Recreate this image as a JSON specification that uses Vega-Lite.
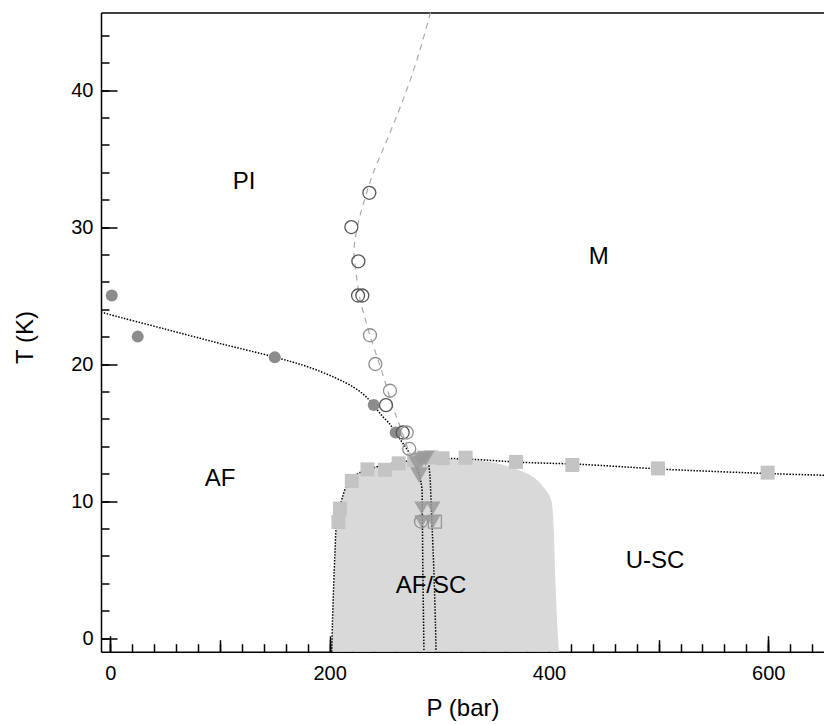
{
  "$schema": "https://vega.github.io/schema/vega-lite/v6.json",
  "autosize": "none",
  "width": 723,
  "height": 639.2,
  "padding": {"left": 101, "top": 12.5, "right": 0, "bottom": 72.3},
  "background": "white",
  "config": {
    "view": {"stroke": null},
    "axis": {"grid": false, "domainColor": "black", "tickColor": "black", "labelColor": "black", "titleColor": "black", "labelFont": "Liberation Sans", "titleFont": "Liberation Sans", "domainWidth": 1.5, "tickWidth": 1.5, "labelOverlap": false, "labelFlush": false}
  },
  "datasets": {
    "region": [
      {"T": -1, "Pl": 202, "Pr": 409},
      {"T": 1, "Pl": 202.6, "Pr": 407.5},
      {"T": 3, "Pl": 203.3, "Pr": 406.5},
      {"T": 5, "Pl": 204.2, "Pr": 405.5},
      {"T": 6.5, "Pl": 205, "Pr": 405},
      {"T": 8, "Pl": 205.8, "Pr": 404.3},
      {"T": 9.2, "Pl": 207.5, "Pr": 403.5},
      {"T": 10.1, "Pl": 211, "Pr": 402},
      {"T": 11, "Pl": 215, "Pr": 395},
      {"T": 11.6, "Pl": 220, "Pr": 388},
      {"T": 12, "Pl": 226, "Pr": 380},
      {"T": 12.5, "Pl": 240, "Pr": 364},
      {"T": 12.85, "Pl": 265, "Pr": 346},
      {"T": 13.0, "Pl": 290, "Pr": 330},
      {"T": 13.05, "Pl": 305, "Pr": 320}
    ],
    "lines": [
      {"s": "af", "i": 0, "P": -8.5, "T": 23.8},
      {"s": "af", "i": 1, "P": 0, "T": 23.6},
      {"s": "af", "i": 2, "P": 50, "T": 22.55},
      {"s": "af", "i": 3, "P": 100, "T": 21.5},
      {"s": "af", "i": 4, "P": 150, "T": 20.5},
      {"s": "af", "i": 5, "P": 180, "T": 19.8},
      {"s": "af", "i": 6, "P": 205, "T": 19.0},
      {"s": "af", "i": 7, "P": 222, "T": 18.3},
      {"s": "af", "i": 8, "P": 232, "T": 17.7},
      {"s": "af", "i": 9, "P": 240, "T": 17.0},
      {"s": "af", "i": 10, "P": 248, "T": 16.2},
      {"s": "af", "i": 11, "P": 255, "T": 15.6},
      {"s": "af", "i": 12, "P": 260, "T": 15.0},
      {"s": "af", "i": 13, "P": 266, "T": 14.3},
      {"s": "af", "i": 14, "P": 272, "T": 13.6},
      {"s": "af", "i": 15, "P": 278, "T": 12.7},
      {"s": "af", "i": 16, "P": 282, "T": 11.8},
      {"s": "af", "i": 17, "P": 284, "T": 11.0},
      {"s": "af", "i": 18, "P": 284.5, "T": 9},
      {"s": "af", "i": 19, "P": 285, "T": 5},
      {"s": "af", "i": 20, "P": 285.5, "T": 2},
      {"s": "af", "i": 21, "P": 286, "T": -1},
      {"s": "af2", "i": 0, "P": 290.5, "T": 12.6},
      {"s": "af2", "i": 1, "P": 291.5, "T": 11.8},
      {"s": "af2", "i": 2, "P": 292.5, "T": 10},
      {"s": "af2", "i": 3, "P": 293.5, "T": 8},
      {"s": "af2", "i": 4, "P": 295, "T": 5},
      {"s": "af2", "i": 5, "P": 296.5, "T": 1},
      {"s": "af2", "i": 6, "P": 297, "T": -1},
      {"s": "tc", "i": 0, "P": 202, "T": -1},
      {"s": "tc", "i": 1, "P": 202.5, "T": 1},
      {"s": "tc", "i": 2, "P": 203.3, "T": 3},
      {"s": "tc", "i": 3, "P": 204.2, "T": 5},
      {"s": "tc", "i": 4, "P": 205, "T": 6.5},
      {"s": "tc", "i": 5, "P": 205.8, "T": 8},
      {"s": "tc", "i": 6, "P": 207.5, "T": 9.2},
      {"s": "tc", "i": 7, "P": 211, "T": 10.1},
      {"s": "tc", "i": 8, "P": 215, "T": 11.04},
      {"s": "tc", "i": 9, "P": 220, "T": 11.6},
      {"s": "tc", "i": 10, "P": 226, "T": 12.0},
      {"s": "tc", "i": 11, "P": 243, "T": 12.5},
      {"s": "tc", "i": 12, "P": 265, "T": 12.85},
      {"s": "tc", "i": 13, "P": 300, "T": 13.1},
      {"s": "tc", "i": 14, "P": 331, "T": 13.04},
      {"s": "tc", "i": 15, "P": 376.6, "T": 12.82},
      {"s": "tc", "i": 16, "P": 428.3, "T": 12.68},
      {"s": "tc", "i": 17, "P": 507.4, "T": 12.31},
      {"s": "tc", "i": 18, "P": 606, "T": 11.99},
      {"s": "tc", "i": 19, "P": 651, "T": 11.88},
      {"s": "pm", "i": 0, "P": 292, "T": 45.66},
      {"s": "pm", "i": 1, "P": 280, "T": 42.3},
      {"s": "pm", "i": 2, "P": 267, "T": 39.3},
      {"s": "pm", "i": 3, "P": 252, "T": 36.3},
      {"s": "pm", "i": 4, "P": 240, "T": 34},
      {"s": "pm", "i": 5, "P": 233, "T": 32.3},
      {"s": "pm", "i": 6, "P": 227, "T": 30.6},
      {"s": "pm", "i": 7, "P": 223, "T": 29},
      {"s": "pm", "i": 8, "P": 222.2, "T": 28},
      {"s": "pm", "i": 9, "P": 223.5, "T": 27},
      {"s": "pm", "i": 10, "P": 225.5, "T": 25.8},
      {"s": "pm", "i": 11, "P": 228, "T": 24.6},
      {"s": "pm", "i": 12, "P": 231, "T": 23.7},
      {"s": "pm", "i": 13, "P": 236, "T": 22.3},
      {"s": "pm", "i": 14, "P": 240, "T": 21.3},
      {"s": "pm", "i": 15, "P": 249, "T": 19.1},
      {"s": "pm", "i": 16, "P": 256.6, "T": 17.1},
      {"s": "pm", "i": 17, "P": 263, "T": 15.7},
      {"s": "pm", "i": 18, "P": 268, "T": 14.6},
      {"s": "pm", "i": 19, "P": 273, "T": 13.4}
    ],
    "squares": [
      {"P": 208, "T": 8.47}, {"P": 209.4, "T": 9.45}, {"P": 220.2, "T": 11.47}, {"P": 234.5, "T": 12.31},
      {"P": 250.5, "T": 12.28}, {"P": 263, "T": 12.75}, {"P": 277, "T": 13.0}, {"P": 292.6, "T": 13.19},
      {"P": 303, "T": 13.12}, {"P": 324, "T": 13.16}, {"P": 369.9, "T": 12.85}, {"P": 421.3, "T": 12.63},
      {"P": 499.4, "T": 12.38}, {"P": 599.4, "T": 12.07}
    ],
    "filled": [
      {"P": 1.3, "T": 25}, {"P": 25, "T": 22}, {"P": 150, "T": 20.5}, {"P": 240.2, "T": 17}, {"P": 260.2, "T": 15}
    ],
    "open": [
      {"P": 236.2, "T": 32.5, "g": "d"}, {"P": 219.8, "T": 30, "g": "d"}, {"P": 226.2, "T": 27.5, "g": "d"},
      {"P": 225.9, "T": 25, "g": "d"}, {"P": 229.8, "T": 25, "g": "d"}, {"P": 251.4, "T": 17, "g": "d"},
      {"P": 266.6, "T": 15, "g": "d"},
      {"P": 236.8, "T": 22.1, "g": "l"}, {"P": 241.7, "T": 20, "g": "l"}, {"P": 255, "T": 18.05, "g": "l"},
      {"P": 270.3, "T": 15, "g": "l"}, {"P": 272.6, "T": 13.8, "g": "l"}, {"P": 283.3, "T": 8.5, "g": "l"}
    ],
    "tri": [
      {"P": 280, "T": 12.7, "b": "big"}, {"P": 284, "T": 13.0, "b": "big"}, {"P": 287.5, "T": 13.1, "b": "big"}, {"P": 281.5, "T": 11.9, "b": "big"},
      {"P": 283.9, "T": 9.5, "b": "small"}, {"P": 294.3, "T": 9.5, "b": "small"}, {"P": 283.9, "T": 8.5, "b": "small"}, {"P": 294.3, "T": 8.5, "b": "small"}
    ],
    "osq": [{"P": 296, "T": 8.5}],
    "labels": [
      {"t": "PI", "P": 122, "T": 33.3}, {"t": "M", "P": 445.3, "T": 27.8}, {"t": "AF", "P": 100, "T": 11.6},
      {"t": "AF/SC", "P": 292.4, "T": 3.8}, {"t": "U-SC", "P": 496.7, "T": 5.6}
    ]
  },
  "resolve": {"axis": {"x": "independent", "y": "independent"}},
  "layer": [
    {
      "data": {"name": "region"},
      "mark": {"type": "area", "orient": "horizontal", "color": "#d9d9d9", "interpolate": "monotone"},
      "encoding": {
        "x": {"field": "Pl", "type": "quantitative", "scale": {"domain": [-8.5, 650.8], "nice": false, "zero": false},
              "axis": {"orient": "bottom", "values": [0,20,40,60,80,100,120,140,160,180,200,220,240,260,280,300,320,340,360,380,400,420,440,460,480,500,520,540,560,580,600,620,640], "tickSize": -8, "labels": false, "title": null, "domain": true}},
        "x2": {"field": "Pr"},
        "y": {"field": "T", "type": "quantitative", "scale": {"domain": [-1, 45.66], "nice": false, "zero": false},
              "axis": {"orient": "left", "values": [0,2,4,6,8,10,12,14,16,18,20,22,24,26,28,30,32,34,36,38,40,42,44], "tickSize": -8, "labels": false, "title": null, "domain": true}}
      }
    },
    {
      "data": {"name": "lines"},
      "transform": [{"filter": "datum.s === 'af' || datum.s === 'af2' || datum.s === 'tc'"}],
      "mark": {"type": "line", "color": "black", "strokeWidth": 1.5, "strokeDash": [1.5, 1.5], "interpolate": "catmull-rom", "clip": true},
      "encoding": {
        "x": {"field": "P", "type": "quantitative", "axis": null},
        "y": {"field": "T", "type": "quantitative", "axis": null},
        "detail": {"field": "s"},
        "order": {"field": "i"}
      }
    },
    {
      "data": {"name": "lines"},
      "transform": [{"filter": "datum.s === 'pm'"}],
      "mark": {"type": "line", "color": "#aaaaaa", "strokeWidth": 1.2, "strokeDash": [6, 5], "interpolate": "catmull-rom", "clip": true},
      "encoding": {
        "x": {"field": "P", "type": "quantitative", "axis": {"orient": "top", "ticks": false, "labels": false, "title": null, "domain": true}},
        "y": {"field": "T", "type": "quantitative", "axis": null},
        "order": {"field": "i"}
      }
    },
    {
      "data": {"name": "squares"},
      "mark": {"type": "point", "shape": "square", "filled": true, "color": "#c4c4c4", "opacity": 1, "size": 196},
      "encoding": {
        "x": {"field": "P", "type": "quantitative", "axis": {"orient": "bottom", "values": [0,100,200,300,400,500,600], "tickSize": -12, "labels": false, "title": null, "domain": false}},
        "y": {"field": "T", "type": "quantitative", "axis": null}
      }
    },
    {
      "data": {"name": "filled"},
      "mark": {"type": "point", "shape": "circle", "filled": true, "color": "#8c8c8c", "opacity": 1, "size": 144},
      "encoding": {
        "x": {"field": "P", "type": "quantitative", "axis": null},
        "y": {"field": "T", "type": "quantitative", "axis": null}
      }
    },
    {
      "data": {"name": "open"},
      "mark": {"type": "point", "shape": "circle", "filled": false, "opacity": 1, "size": 169, "strokeWidth": 1.3},
      "encoding": {
        "x": {"field": "P", "type": "quantitative", "axis": null},
        "y": {"field": "T", "type": "quantitative", "axis": null},
        "stroke": {"field": "g", "type": "nominal", "scale": {"domain": ["d", "l"], "range": ["#555555", "#8f8f8f"]}, "legend": null}
      }
    },
    {
      "data": {"name": "osq"},
      "mark": {"type": "point", "shape": "square", "filled": false, "color": "#999999", "opacity": 1, "size": 169, "strokeWidth": 1.3},
      "encoding": {
        "x": {"field": "P", "type": "quantitative", "axis": null},
        "y": {"field": "T", "type": "quantitative", "axis": null}
      }
    },
    {
      "data": {"name": "tri"},
      "mark": {"type": "point", "shape": "triangle-down", "filled": true, "color": "#999999", "opacity": 0.85},
      "encoding": {
        "x": {"field": "P", "type": "quantitative", "axis": null},
        "y": {"field": "T", "type": "quantitative", "axis": null},
        "size": {"field": "b", "type": "nominal", "scale": {"domain": ["big", "small"], "range": [320, 220]}, "legend": null}
      }
    },
    {
      "data": {"name": "labels"},
      "mark": {"type": "text", "font": "Liberation Sans", "fontSize": 24, "color": "black", "align": "center", "baseline": "middle"},
      "encoding": {
        "x": {"field": "P", "type": "quantitative",
              "axis": {"orient": "bottom", "values": [0,200,400,600], "tickSize": -16, "labelPadding": 28, "labelFontSize": 20, "title": "P (bar)", "titleFontSize": 24, "titleFontWeight": "normal", "titleY": 64, "titleBaseline": "alphabetic", "domain": false}},
        "y": {"field": "T", "type": "quantitative",
              "axis": {"orient": "left", "values": [0,10,20,30,40], "tickSize": -16, "labelPadding": 24, "labelFontSize": 20, "title": "T (K)", "titleFontSize": 24, "titleFontWeight": "normal", "titleX": -69, "titleY": 324.5, "titleBaseline": "alphabetic", "domain": false}},
        "text": {"field": "t"}
      }
    }
  ]
}
